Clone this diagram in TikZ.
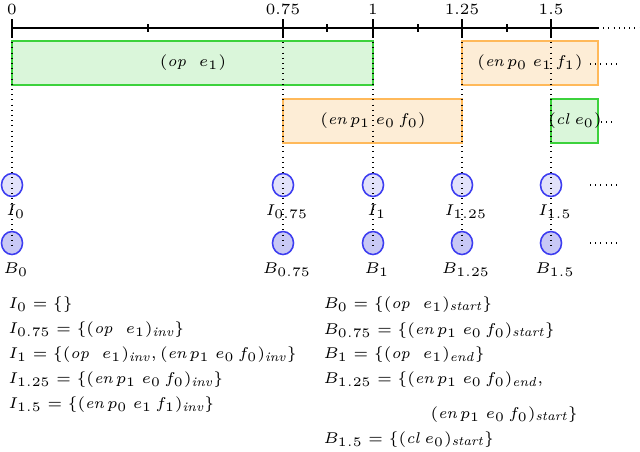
\documentclass[tikz,border=0pt]{standalone}
\usepackage{amsmath}
\usetikzlibrary{shapes.geometric}
\definecolor{gborder}{RGB}{60,210,60}
\definecolor{gfill}{RGB}{218,246,218}
\definecolor{oborder}{RGB}{255,185,90}
\definecolor{ofill}{RGB}{253,237,214}
\definecolor{cborder}{RGB}{60,60,240}
\definecolor{ifill}{RGB}{226,226,250}
\definecolor{bfill}{RGB}{200,200,245}
\newcommand{\ti}[1]{\textit{#1}}
\begin{document}
\begin{tikzpicture}[x=0.3846pt,y=-0.3846pt,font=\fontsize{6}{7}\selectfont,
  gbox/.style={draw=gborder,fill=gfill,line width=0.7pt},
  obox/.style={draw=oborder,fill=ofill,line width=0.7pt},
  circ/.style={draw=cborder,line width=0.6pt,ellipse,minimum width=8.1pt,minimum height=8.85pt,inner sep=0pt},
  vdot/.style={line width=0.4pt,dash pattern=on 0.4pt off 1.6pt},
  axl/.style={line width=0.5pt},
  lbl/.style={inner sep=0pt},
  txt/.style={anchor=base west,inner sep=0pt}]
\useasboundingbox (0,0) rectangle (640,451);
% axis
\coordinate (a0) at (12,28);
\coordinate (aend) at (598,28);
\coordinate (adot) at (640,28);
\draw[axl] (a0) -- (aend);
\draw[vdot] (aend) -- (adot);
\foreach \x in {12,283,373,462,551} \draw[axl] (\x,19) -- (\x,37);
\foreach \x in {148,327,418,507} \draw[axl] (\x,24) -- (\x,32);
\node[lbl] (t0) at (12,9) {0};
\node[lbl] (t075) at (283,9) {0.75};
\node[lbl] (t1) at (373,9) {1};
\node[lbl] (t125) at (462,9) {1.25};
\node[lbl] (t15) at (551,9) {1.5};
% boxes
\draw[gbox] (12,41) rectangle (373,85);
\node[lbl] (op) at (193,63) {$(\ti{op}\ \ e_1)$};
\draw[obox] (462,41) rectangle (598,85);
\node[lbl] (en0) at (530,63) {$(\ti{en}\,p_0\;e_1\,f_1)$};
\coordinate (d1a) at (590,64);
\coordinate (d1b) at (618,64);
\draw[vdot] (d1a) -- (d1b);
\draw[obox] (283,99) rectangle (462,143);
\node[lbl] (en1) at (373,121) {$(\ti{en}\,p_1\;e_0\,f_0)$};
\draw[gbox] (551,99) rectangle (598,143);
\node[lbl] (cl) at (575,121) {$(\ti{cl}\;e_0)$};
\coordinate (d2a) at (601,122);
\coordinate (d2b) at (616,122);
\draw[vdot] (d2a) -- (d2b);
% circles
\foreach \x/\n/\s in {12/0/0,283/075/0.75,373/1/1,462/125/1.25,551/15/1.5}{
  \node[circ,fill=ifill] (I\n) at (\x,185) {};
  \node[circ,fill=bfill] (B\n) at (\x,243) {};
  \node[lbl] (LI\n) at (\x+4,212) {$I_{\s}$};
  \node[lbl] (LB\n) at (\x+4,270) {$B_{\s}$};
  \draw[vdot] (\x,37) -- (\x,250);
}
\coordinate (d3a) at (590,185);
\coordinate (d3b) at (618,185);
\draw[vdot] (d3a) -- (d3b);
\coordinate (d4a) at (590,243);
\coordinate (d4b) at (618,243);
\draw[vdot] (d4a) -- (d4b);
% texts
\node[txt] (l1) at (8,308) {$I_0=\{\}$};
\node[txt] (l2) at (8,333) {$I_{0.75}=\{(\ti{op}\ \ e_1)_{\ti{inv}}\}$};
\node[txt] (l3) at (8,358) {$I_1=\{(\ti{op}\ \ e_1)_{\ti{inv}},(\ti{en}\,p_1\;e_0\,f_0)_{\ti{inv}}\}$};
\node[txt] (l4) at (8,383) {$I_{1.25}=\{(\ti{en}\,p_1\;e_0\,f_0)_{\ti{inv}}\}$};
\node[txt] (l5) at (8,408) {$I_{1.5}=\{(\ti{en}\,p_0\;e_1\,f_1)_{\ti{inv}}\}$};
\node[txt] (r1) at (323,308) {$B_0=\{(\ti{op}\ \ e_1)_{\ti{start}}\}$};
\node[txt] (r2) at (323,334) {$B_{0.75}=\{(\ti{en}\,p_1\;e_0\,f_0)_{\ti{start}}\}$};
\node[txt] (r3) at (323,358) {$B_1=\{(\ti{op}\ \ e_1)_{\ti{end}}\}$};
\node[txt] (r4) at (323,383) {$B_{1.25}=\{(\ti{en}\,p_1\;e_0\,f_0)_{\ti{end}},$};
\node[txt] (r5) at (430,418) {$(\ti{en}\,p_1\;e_0\,f_0)_{\ti{start}}\}$};
\node[txt] (r6) at (323,443) {$B_{1.5}=\{(\ti{cl}\;e_0)_{\ti{start}}\}$};
\end{tikzpicture}
\end{document}
